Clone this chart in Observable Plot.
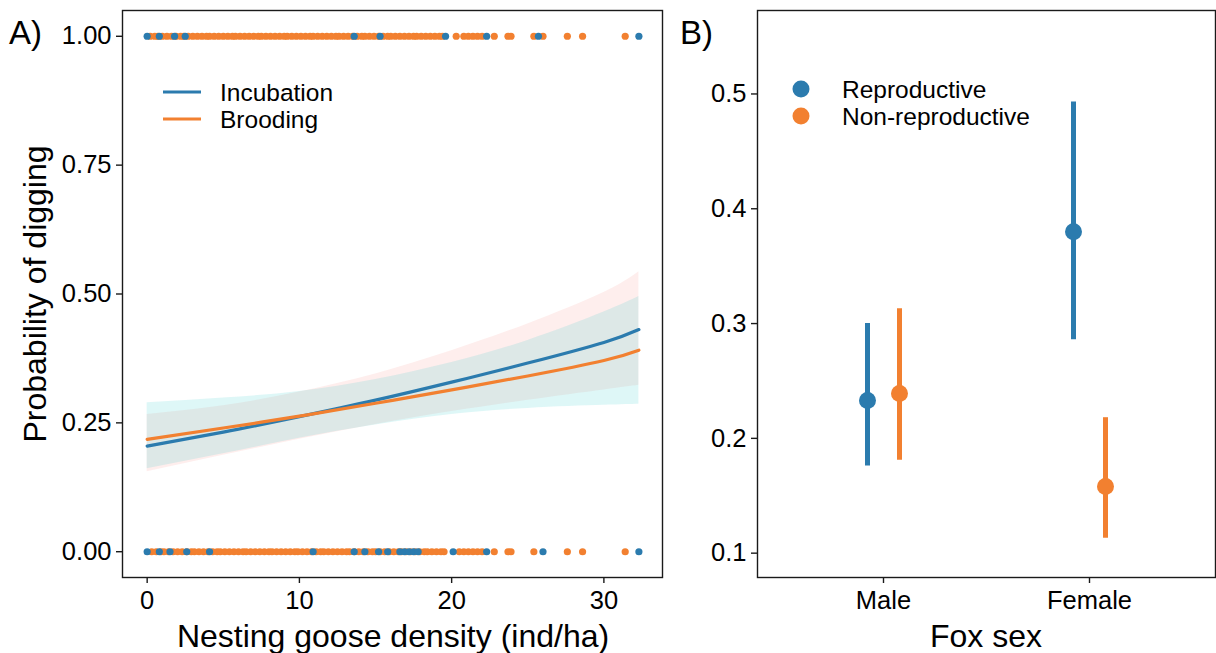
<!DOCTYPE html>
<html><head><meta charset="utf-8">
<script src="https://cdn.jsdelivr.net/npm/d3@7"></script>
<script src="https://cdn.jsdelivr.net/npm/@observablehq/plot@0.6"></script>
<style>
body{margin:0;background:#fff;}
#wrap{position:relative;width:1216px;height:653px;overflow:hidden;font-family:"Liberation Sans",Arial,sans-serif;}
#a,#b,#ov{position:absolute;top:0;}
#a{left:0;} #b{left:680px;} #ov{left:0;pointer-events:none;}
</style></head>
<body><div id="wrap"><div id="a"></div><div id="b"></div>
<svg id="ov" width="1216" height="653" font-family="Liberation Sans, Arial, sans-serif"></svg></div>
<script>
// ---------- Panel A data ----------
const BLUE = "#2B7BAE", ORANGE = "#F28030";
const stages = ["Incubation", "Brooding"];
// fitted probability
const densX  = [0, 5, 10, 15, 20, 25, 30, 32.3];
const incFit = [0.205, 0.232, 0.262, 0.294, 0.329, 0.366, 0.406, 0.431];
const incLo  = [0.155, 0.187, 0.218, 0.247, 0.272, 0.294, 0.314, 0.323];
const incHi  = [0.266, 0.283, 0.310, 0.345, 0.390, 0.442, 0.503, 0.543];
const broFit = [0.218, 0.240, 0.263, 0.288, 0.314, 0.341, 0.371, 0.391];
const broLo  = [0.161, 0.190, 0.220, 0.246, 0.266, 0.278, 0.284, 0.286];
const broHi  = [0.289, 0.298, 0.311, 0.334, 0.367, 0.410, 0.465, 0.495];
// observed digging events (y = 1) and non-digging (y = 0), by goose density
const incTop = [0, 0.8, 1.8, 2.5, 13.6, 15.3, 19.6, 22.3, 25.7, 32.3];
const broTop = [0.2,0.5,0.7,1.0,1.3,1.6,1.9,2.2,2.4,2.7,3.0,3.3,3.6,3.9,4.1,4.4,4.7,5.0,5.3,5.6,5.8,6.1,6.4,6.7,7.0,7.3,7.5,7.8,8.1,8.4,8.7,9.0,9.2,9.5,9.8,10.1,10.4,10.7,10.9,11.2,11.5,11.8,12.1,12.4,12.6,12.9,13.2,13.5,13.8,14.1,14.3,14.6,14.9,15.2,15.5,15.8,16.0,16.3,16.6,16.9,17.2,17.5,17.7,18.0,18.3,18.6,18.9,19.2,19.4,
  20.3, 20.8, 21.1, 21.4, 21.7, 22.0, 22.8, 23.7, 23.9, 25.4, 26.0, 27.6, 28.6, 31.4];
const incBot = [0, 0.8, 1.5, 2.6, 4.1, 10.9, 13.6, 14.3, 15.2, 15.8, 16.6, 16.9, 17.2, 17.5, 17.8, 20.1, 22.3, 26.0, 32.3];
const broBot = [0.3,0.6,0.9,1.1,1.4,1.7,2.0,2.3,2.6,2.9,3.1,3.4,3.7,4.0,4.3,4.6,4.8,5.1,5.4,5.7,6.0,6.3,6.5,6.8,7.1,7.4,7.7,8.0,8.2,8.5,8.8,9.1,9.4,9.7,9.9,10.2,10.5,10.8,11.1,11.4,11.6,11.9,12.2,12.5,12.8,13.1,13.3,13.6,13.9,14.2,14.5,14.8,15.0,15.3,15.6,15.9,16.2,16.5,16.7,17.0,17.3,17.6,17.9,18.2,18.4,18.7,19.0,19.3,19.5,
  20.5, 20.8, 21.1, 21.4, 21.7, 22.0, 22.8, 23.7, 23.9, 25.4, 27.6, 28.6, 31.4];
const xTicksA = [0, 10, 20, 30];
const yTicksA = [0, 0.25, 0.5, 0.75, 1];

// ---------- Panel B data ----------
const sexes   = ["Male", "Male", "Female", "Female"];
const status  = ["Reproductive", "Non-reproductive", "Reproductive", "Non-reproductive"];
const estB    = [0.233, 0.239, 0.380, 0.158];
const loB     = [0.176, 0.181, 0.286, 0.113];
const hiB     = [0.300, 0.313, 0.493, 0.218];
const yTicksB = [0.1, 0.2, 0.3, 0.4, 0.5];

// ---------- build tables ----------
const fitRows = (fit, lo, hi, stage) => densX.map((x, i) => ({x, fit: fit[i], lo: lo[i], hi: hi[i], stage}));
const incRows = fitRows(incFit, incLo, incHi, "Incubation");
const broRows = fitRows(broFit, broLo, broHi, "Brooding");
const ptRows = (xs, y, stage) => xs.map(x => ({x, y, stage}));
const incPts = [...ptRows(incTop, 1, "Incubation"), ...ptRows(incBot, 0, "Incubation")];
const broPts = [...ptRows(broTop, 1, "Brooding"), ...ptRows(broBot, 0, "Brooding")];
const bRows = sexes.map((s, i) => ({sex: s, status: status[i], est: estB[i], lo: loB[i], hi: hiB[i]}));

const baseStyle = {fontSize: "25.5px", fontFamily: "Liberation Sans, Arial, sans-serif", color: "#000", background: "transparent", overflow: "visible"};

const plotA = Plot.plot({
  width: 680, height: 653,
  marginLeft: 122, marginRight: 18, marginTop: 10, marginBottom: 76,
  style: baseStyle,
  x: {domain: [-1.62, 33.85]},
  y: {domain: [-0.05, 1.05]},
  marks: [
    Plot.areaY(incRows, {x: "x", y1: "lo", y2: "hi", fill: "#F8766D", fillOpacity: 0.12, curve: "natural"}),
    Plot.areaY(broRows, {x: "x", y1: "lo", y2: "hi", fill: "#00BFC4", fillOpacity: 0.13, curve: "natural"}),
    Plot.dot(broPts, {x: "x", y: "y", r: 3.6, fill: ORANGE, stroke: "none"}),
    Plot.dot(incPts, {x: "x", y: "y", r: 3.6, fill: BLUE, stroke: "none"}),
    Plot.line(incRows, {x: "x", y: "fit", stroke: BLUE, strokeWidth: 3.2, curve: "natural"}),
    Plot.line(broRows, {x: "x", y: "fit", stroke: ORANGE, strokeWidth: 3.2, curve: "natural"}),
    Plot.frame({stroke: "#1a1a1a", strokeWidth: 1.4}),
    Plot.axisX({ticks: xTicksA, tickSize: 6, tickPadding: 7, label: null, stroke: "#1a1a1a", strokeWidth: 1.4}),
    Plot.axisY({ticks: yTicksA, tickFormat: d3.format(".2f"), tickSize: 6, tickPadding: 5, label: null, stroke: "#1a1a1a", strokeWidth: 1.4})
  ]
});
document.getElementById("a").appendChild(plotA);

const plotB = Plot.plot({
  width: 536, height: 653,
  marginLeft: 77, marginRight: 1, marginTop: 10, marginBottom: 76,
  style: baseStyle,
  x: {type: "point", domain: ["Male", "Female"], padding: 0.61},
  y: {domain: [0.0788, 0.5727]},
  marks: [
    Plot.ruleX(bRows.filter(d => d.status === "Reproductive"), {x: "sex", y1: "lo", y2: "hi", stroke: BLUE, strokeWidth: 5, dx: -16}),
    Plot.dot(bRows.filter(d => d.status === "Reproductive"), {x: "sex", y: "est", r: 8.5, fill: BLUE, stroke: "none", dx: -16}),
    Plot.ruleX(bRows.filter(d => d.status === "Non-reproductive"), {x: "sex", y1: "lo", y2: "hi", stroke: ORANGE, strokeWidth: 5, dx: 16}),
    Plot.dot(bRows.filter(d => d.status === "Non-reproductive"), {x: "sex", y: "est", r: 8.5, fill: ORANGE, stroke: "none", dx: 16}),
    Plot.frame({stroke: "#1a1a1a", strokeWidth: 1.4}),
    Plot.axisX({tickSize: 6, tickPadding: 7, label: null, stroke: "#1a1a1a", strokeWidth: 1.4}),
    Plot.axisY({ticks: yTicksB, tickFormat: d3.format(".1f"), tickSize: 6, tickPadding: 5, label: null, stroke: "#1a1a1a", strokeWidth: 1.4})
  ]
});
document.getElementById("b").appendChild(plotB);

// ---------- titles, panel labels, legends ----------
const ov = d3.select("#ov");
const txt = (x, y, s, size, opts = {}) => {
  const t = ov.append("text").attr("x", x).attr("y", y).attr("font-size", size).attr("fill", "#000").text(s);
  if (opts.anchor) t.attr("text-anchor", opts.anchor);
  if (opts.central) t.attr("dominant-baseline", "central");
  if (opts.rotate) t.attr("transform", `rotate(-90 ${x} ${y})`);
  return t;
};
txt(9, 44, "A)", 33);
txt(680, 44, "B)", 33);
txt(35, 294, "Probability of digging", 32, {anchor: "middle", central: true, rotate: true});
txt(393, 647, "Nesting goose density (ind/ha)", 32, {anchor: "middle"});
txt(986, 647, "Fox sex", 32, {anchor: "middle"});
// legend A
const legA = [{label: stages[0], color: BLUE, y: 92}, {label: stages[1], color: ORANGE, y: 119}];
legA.forEach(d => {
  ov.append("line").attr("x1", 163).attr("x2", 201).attr("y1", d.y).attr("y2", d.y).attr("stroke", d.color).attr("stroke-width", 3.2);
  txt(220, d.y, d.label, 24.5, {central: true});
});
// legend B
const legB = [{label: "Reproductive", color: BLUE, y: 89}, {label: "Non-reproductive", color: ORANGE, y: 116}];
legB.forEach(d => {
  ov.append("circle").attr("cx", 801).attr("cy", d.y).attr("r", 8.5).attr("fill", d.color);
  txt(842, d.y, d.label, 24.5, {central: true});
});
</script></body></html>
